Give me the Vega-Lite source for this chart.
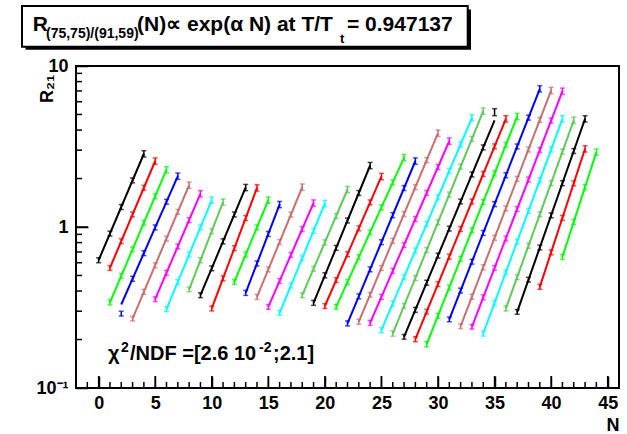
{
"$schema": "https://vega.github.io/schema/vega-lite/v6.json",
"width": 543, "height": 322,
"autosize": "none",
"padding": {"left": 76, "top": 66, "right": 8, "bottom": 46},
"background": "white",
"config": {
 "view": {"stroke": "#000000", "strokeWidth": 2},
 "font": "Liberation Sans",
 "axis": {"domain": false, "grid": false, "ticks": true, "tickColor": "#000000", "tickOpacity": 1, "tickWidth": 1.5, "zindex": 1,
  "labelFont": "Liberation Sans", "labelFontWeight": "bold", "labelFontSize": 18, "labelColor": "#000000",
  "titleFont": "Liberation Sans", "titleFontWeight": "bold", "titleFontSize": 18, "titleColor": "#000000"}
},
"resolve": {"axis": {"x": "independent", "y": "independent"}},
"datasets": {
 "xticks": [
  {"v":-1,"k":"minor"},{"v":0,"k":"major"},{"v":1,"k":"minor"},{"v":2,"k":"minor"},{"v":3,"k":"minor"},{"v":4,"k":"minor"},
  {"v":5,"k":"major"},{"v":6,"k":"minor"},{"v":7,"k":"minor"},{"v":8,"k":"minor"},{"v":9,"k":"minor"},
  {"v":10,"k":"major"},{"v":11,"k":"minor"},{"v":12,"k":"minor"},{"v":13,"k":"minor"},{"v":14,"k":"minor"},
  {"v":15,"k":"major"},{"v":16,"k":"minor"},{"v":17,"k":"minor"},{"v":18,"k":"minor"},{"v":19,"k":"minor"},
  {"v":20,"k":"major"},{"v":21,"k":"minor"},{"v":22,"k":"minor"},{"v":23,"k":"minor"},{"v":24,"k":"minor"},
  {"v":25,"k":"major"},{"v":26,"k":"minor"},{"v":27,"k":"minor"},{"v":28,"k":"minor"},{"v":29,"k":"minor"},
  {"v":30,"k":"major"},{"v":31,"k":"minor"},{"v":32,"k":"minor"},{"v":33,"k":"minor"},{"v":34,"k":"minor"},
  {"v":35,"k":"major"},{"v":36,"k":"minor"},{"v":37,"k":"minor"},{"v":38,"k":"minor"},{"v":39,"k":"minor"},
  {"v":40,"k":"major"},{"v":41,"k":"minor"},{"v":42,"k":"minor"},{"v":43,"k":"minor"},{"v":44,"k":"minor"},
  {"v":45,"k":"major"}
 ],
 "yticks": [
  {"v":0.2,"k":"minor"},{"v":0.3,"k":"minor"},{"v":0.4,"k":"minor"},{"v":0.5,"k":"minor"},{"v":0.6,"k":"minor"},{"v":0.7,"k":"minor"},{"v":0.8,"k":"minor"},{"v":0.9,"k":"minor"},
  {"v":1,"k":"major"},
  {"v":2,"k":"minor"},{"v":3,"k":"minor"},{"v":4,"k":"minor"},{"v":5,"k":"minor"},{"v":6,"k":"minor"},{"v":7,"k":"minor"},{"v":8,"k":"minor"},{"v":9,"k":"minor"}
 ],
 "fit": [
  {"s":1,"N":0,"F":0.622},{"s":1,"N":4,"F":2.851},
  {"s":2,"N":1,"F":0.557},{"s":2,"N":5,"F":2.57},
  {"s":3,"N":1,"F":0.34},{"s":3,"N":6,"F":2.27},
  {"s":4,"N":2,"F":0.33},{"s":4,"N":7,"F":2.07},
  {"s":5,"N":3,"F":0.27},{"s":5,"N":8,"F":1.82},
  {"s":6,"N":5,"F":0.356},{"s":6,"N":9,"F":1.61},
  {"s":7,"N":6,"F":0.309},{"s":7,"N":10,"F":1.47},
  {"s":8,"N":8,"F":0.41},{"s":8,"N":11,"F":1.43},
  {"s":9,"N":9,"F":0.377},{"s":9,"N":13,"F":1.76},
  {"s":10,"N":10,"F":0.312},{"s":10,"N":14,"F":1.75},
  {"s":11,"N":12,"F":0.456},{"s":11,"N":15,"F":1.47},
  {"s":12,"N":13,"F":0.39},{"s":12,"N":16,"F":1.38},
  {"s":13,"N":14,"F":0.368},{"s":13,"N":18,"F":1.77},
  {"s":14,"N":15,"F":0.319},{"s":14,"N":19,"F":1.41},
  {"s":15,"N":16,"F":0.293},{"s":15,"N":20,"F":1.4},
  {"s":16,"N":18,"F":0.377},{"s":16,"N":22,"F":1.71},
  {"s":17,"N":19,"F":0.338},{"s":17,"N":24,"F":2.41},
  {"s":18,"N":20,"F":0.323},{"s":18,"N":25,"F":2.06},
  {"s":19,"N":21,"F":0.319},{"s":19,"N":27,"F":2.7},
  {"s":20,"N":22,"F":0.252},{"s":20,"N":28,"F":2.57},
  {"s":21,"N":23,"F":0.258},{"s":21,"N":30,"F":3.83},
  {"s":22,"N":24,"F":0.254},{"s":22,"N":31,"F":3.42},
  {"s":23,"N":25,"F":0.229},{"s":23,"N":33,"F":4.77},
  {"s":24,"N":26,"F":0.218},{"s":24,"N":34,"F":5.25},
  {"s":25,"N":27,"F":0.208},{"s":25,"N":35,"F":4.6},
  {"s":26,"N":28,"F":0.201},{"s":26,"N":36,"F":4.7},
  {"s":27,"N":29,"F":0.187},{"s":27,"N":37,"F":4.86},
  {"s":28,"N":31,"F":0.267},{"s":28,"N":39,"F":7.22},
  {"s":29,"N":32,"F":0.242},{"s":29,"N":40,"F":7.05},
  {"s":30,"N":33,"F":0.24},{"s":30,"N":41,"F":6.98},
  {"s":31,"N":34,"F":0.218},{"s":31,"N":41,"F":4.7},
  {"s":32,"N":36,"F":0.312},{"s":32,"N":42,"F":4.6},
  {"s":33,"N":37,"F":0.297},{"s":33,"N":43,"F":4.7},
  {"s":34,"N":39,"F":0.425},{"s":34,"N":43,"F":3.06},
  {"s":35,"N":41,"F":0.652},{"s":35,"N":44,"F":2.92}
 ],
 "pts": [
  {"s":1,"N":0,"R":0.622,"e":0.022},{"s":1,"N":1,"R":0.91,"e":0.032},{"s":1,"N":2,"R":1.332,"e":0.047},{"s":1,"N":3,"R":1.949,"e":0.068},{"s":1,"N":4,"R":2.851,"e":0.128},
  {"s":2,"N":1,"R":0.557,"e":0.019},{"s":2,"N":2,"R":0.817,"e":0.029},{"s":2,"N":3,"R":1.197,"e":0.042},{"s":2,"N":4,"R":1.754,"e":0.061},{"s":2,"N":5,"R":2.57,"e":0.116},
  {"s":3,"N":1,"R":0.34,"e":0.012},{"s":3,"N":2,"R":0.497,"e":0.017},{"s":3,"N":3,"R":0.726,"e":0.025},{"s":3,"N":4,"R":1.062,"e":0.037},{"s":3,"N":5,"R":1.552,"e":0.054},{"s":3,"N":6,"R":2.27,"e":0.102},
  {"s":4,"N":2,"R":0.29,"e":0.01},{"s":4,"N":3,"R":0.477,"e":0.017},{"s":4,"N":4,"R":0.688,"e":0.024},{"s":4,"N":5,"R":0.994,"e":0.035},{"s":4,"N":6,"R":1.434,"e":0.05},{"s":4,"N":7,"R":2.07,"e":0.093},
  {"s":5,"N":3,"R":0.27,"e":0.009},{"s":5,"N":4,"R":0.396,"e":0.014},{"s":5,"N":5,"R":0.579,"e":0.02},{"s":5,"N":6,"R":0.848,"e":0.03},{"s":5,"N":7,"R":1.242,"e":0.043},{"s":5,"N":8,"R":1.82,"e":0.082},
  {"s":6,"N":5,"R":0.356,"e":0.012},{"s":6,"N":6,"R":0.519,"e":0.018},{"s":6,"N":7,"R":0.757,"e":0.026},{"s":6,"N":8,"R":1.104,"e":0.039},{"s":6,"N":9,"R":1.61,"e":0.072},
  {"s":7,"N":6,"R":0.309,"e":0.011},{"s":7,"N":7,"R":0.456,"e":0.016},{"s":7,"N":8,"R":0.674,"e":0.024},{"s":7,"N":9,"R":0.995,"e":0.035},{"s":7,"N":10,"R":1.47,"e":0.066},
  {"s":8,"N":8,"R":0.41,"e":0.014},{"s":8,"N":9,"R":0.622,"e":0.022},{"s":8,"N":10,"R":0.943,"e":0.033},{"s":8,"N":11,"R":1.43,"e":0.064},
  {"s":9,"N":9,"R":0.377,"e":0.013},{"s":9,"N":10,"R":0.554,"e":0.019},{"s":9,"N":11,"R":0.815,"e":0.029},{"s":9,"N":12,"R":1.197,"e":0.042},{"s":9,"N":13,"R":1.76,"e":0.079},
  {"s":10,"N":10,"R":0.312,"e":0.011},{"s":10,"N":11,"R":0.48,"e":0.017},{"s":10,"N":12,"R":0.739,"e":0.026},{"s":10,"N":13,"R":1.137,"e":0.04},{"s":10,"N":14,"R":1.75,"e":0.079},
  {"s":11,"N":12,"R":0.456,"e":0.016},{"s":11,"N":13,"R":0.674,"e":0.024},{"s":11,"N":14,"R":0.995,"e":0.035},{"s":11,"N":15,"R":1.47,"e":0.066},
  {"s":12,"N":13,"R":0.39,"e":0.014},{"s":12,"N":14,"R":0.594,"e":0.021},{"s":12,"N":15,"R":0.906,"e":0.032},{"s":12,"N":16,"R":1.38,"e":0.062},
  {"s":13,"N":14,"R":0.368,"e":0.013},{"s":13,"N":15,"R":0.545,"e":0.019},{"s":13,"N":16,"R":0.807,"e":0.028},{"s":13,"N":17,"R":1.195,"e":0.042},{"s":13,"N":18,"R":1.77,"e":0.08},
  {"s":14,"N":15,"R":0.319,"e":0.011},{"s":14,"N":16,"R":0.462,"e":0.016},{"s":14,"N":17,"R":0.671,"e":0.023},{"s":14,"N":18,"R":0.972,"e":0.034},{"s":14,"N":19,"R":1.41,"e":0.063},
  {"s":15,"N":16,"R":0.293,"e":0.01},{"s":15,"N":17,"R":0.433,"e":0.015},{"s":15,"N":18,"R":0.64,"e":0.022},{"s":15,"N":19,"R":0.947,"e":0.033},{"s":15,"N":20,"R":1.4,"e":0.063},
  {"s":16,"N":18,"R":0.377,"e":0.013},{"s":16,"N":19,"R":0.55,"e":0.019},{"s":16,"N":20,"R":0.803,"e":0.028},{"s":16,"N":21,"R":1.172,"e":0.041},{"s":16,"N":22,"R":1.71,"e":0.077},
  {"s":17,"N":19,"R":0.338,"e":0.012},{"s":17,"N":20,"R":0.501,"e":0.018},{"s":17,"N":21,"R":0.742,"e":0.026},{"s":17,"N":22,"R":1.098,"e":0.038},{"s":17,"N":23,"R":1.627,"e":0.057},{"s":17,"N":24,"R":2.41,"e":0.108},
  {"s":18,"N":20,"R":0.323,"e":0.011},{"s":18,"N":21,"R":0.468,"e":0.016},{"s":18,"N":22,"R":0.678,"e":0.024},{"s":18,"N":23,"R":0.982,"e":0.034},{"s":18,"N":24,"R":1.422,"e":0.05},{"s":18,"N":25,"R":2.06,"e":0.093},
  {"s":19,"N":21,"R":0.319,"e":0.011},{"s":19,"N":22,"R":0.455,"e":0.016},{"s":19,"N":23,"R":0.65,"e":0.023},{"s":19,"N":24,"R":0.928,"e":0.032},{"s":19,"N":25,"R":1.325,"e":0.046},{"s":19,"N":26,"R":1.891,"e":0.066},{"s":19,"N":27,"R":2.7,"e":0.122},
  {"s":20,"N":22,"R":0.252,"e":0.009},{"s":20,"N":23,"R":0.371,"e":0.013},{"s":20,"N":24,"R":0.546,"e":0.019},{"s":20,"N":25,"R":0.805,"e":0.028},{"s":20,"N":26,"R":1.185,"e":0.041},{"s":20,"N":27,"R":1.746,"e":0.061},{"s":20,"N":28,"R":2.57,"e":0.116},
  {"s":21,"N":23,"R":0.258,"e":0.009},{"s":21,"N":24,"R":0.379,"e":0.013},{"s":21,"N":25,"R":0.557,"e":0.019},{"s":21,"N":26,"R":0.82,"e":0.029},{"s":21,"N":27,"R":1.205,"e":0.042},{"s":21,"N":28,"R":1.772,"e":0.062},{"s":21,"N":29,"R":2.604,"e":0.091},{"s":21,"N":30,"R":3.83,"e":0.172},
  {"s":22,"N":24,"R":0.254,"e":0.009},{"s":22,"N":25,"R":0.368,"e":0.013},{"s":22,"N":26,"R":0.534,"e":0.019},{"s":22,"N":27,"R":0.774,"e":0.027},{"s":22,"N":28,"R":1.122,"e":0.039},{"s":22,"N":29,"R":1.627,"e":0.057},{"s":22,"N":30,"R":2.359,"e":0.083},{"s":22,"N":31,"R":3.42,"e":0.154},
  {"s":23,"N":25,"R":0.229,"e":0.008},{"s":23,"N":26,"R":0.335,"e":0.012},{"s":23,"N":27,"R":0.489,"e":0.017},{"s":23,"N":28,"R":0.715,"e":0.025},{"s":23,"N":29,"R":1.045,"e":0.037},{"s":23,"N":30,"R":1.528,"e":0.053},{"s":23,"N":31,"R":2.233,"e":0.078},{"s":23,"N":32,"R":3.264,"e":0.114},{"s":23,"N":33,"R":4.77,"e":0.215},
  {"s":24,"N":26,"R":0.218,"e":0.008},{"s":24,"N":27,"R":0.324,"e":0.011},{"s":24,"N":28,"R":0.483,"e":0.017},{"s":24,"N":29,"R":0.719,"e":0.025},{"s":24,"N":30,"R":1.07,"e":0.037},{"s":24,"N":31,"R":1.592,"e":0.056},{"s":24,"N":32,"R":2.371,"e":0.083},{"s":24,"N":33,"R":3.528,"e":0.123},{"s":24,"N":34,"R":5.25,"e":0.236},
  {"s":25,"N":27,"R":0.208,"e":0.007},{"s":25,"N":28,"R":0.306,"e":0.011},{"s":25,"N":29,"R":0.451,"e":0.016},{"s":25,"N":30,"R":0.664,"e":0.023},{"s":25,"N":31,"R":0.978,"e":0.034},{"s":25,"N":32,"R":1.441,"e":0.05},{"s":25,"N":33,"R":2.121,"e":0.074},{"s":25,"N":34,"R":3.124,"e":0.109},{"s":25,"N":35,"R":5.17,"e":0.26},
  {"s":26,"N":28,"R":0.201,"e":0.007},{"s":26,"N":29,"R":0.298,"e":0.01},{"s":26,"N":30,"R":0.442,"e":0.015},{"s":26,"N":31,"R":0.655,"e":0.023},{"s":26,"N":32,"R":0.972,"e":0.034},{"s":26,"N":33,"R":1.441,"e":0.05},{"s":26,"N":34,"R":2.137,"e":0.075},{"s":26,"N":35,"R":3.17,"e":0.111},{"s":26,"N":36,"R":4.7,"e":0.212},
  {"s":27,"N":29,"R":0.187,"e":0.007},{"s":27,"N":30,"R":0.281,"e":0.01},{"s":27,"N":31,"R":0.422,"e":0.015},{"s":27,"N":32,"R":0.634,"e":0.022},{"s":27,"N":33,"R":0.953,"e":0.033},{"s":27,"N":34,"R":1.432,"e":0.05},{"s":27,"N":35,"R":2.152,"e":0.075},{"s":27,"N":36,"R":3.234,"e":0.113},{"s":27,"N":37,"R":4.86,"e":0.219},
  {"s":28,"N":31,"R":0.267,"e":0.009},{"s":28,"N":32,"R":0.403,"e":0.014},{"s":28,"N":33,"R":0.609,"e":0.021},{"s":28,"N":34,"R":0.919,"e":0.032},{"s":28,"N":35,"R":1.388,"e":0.049},{"s":28,"N":36,"R":2.097,"e":0.073},{"s":28,"N":37,"R":3.167,"e":0.111},{"s":28,"N":38,"R":4.781,"e":0.167},{"s":28,"N":39,"R":7.22,"e":0.325},
  {"s":29,"N":32,"R":0.242,"e":0.008},{"s":29,"N":33,"R":0.369,"e":0.013},{"s":29,"N":34,"R":0.562,"e":0.02},{"s":29,"N":35,"R":0.857,"e":0.03},{"s":29,"N":36,"R":1.306,"e":0.046},{"s":29,"N":37,"R":1.991,"e":0.07},{"s":29,"N":38,"R":3.034,"e":0.106},{"s":29,"N":39,"R":4.626,"e":0.162},{"s":29,"N":40,"R":7.05,"e":0.317},
  {"s":30,"N":33,"R":0.24,"e":0.008},{"s":30,"N":34,"R":0.366,"e":0.013},{"s":30,"N":35,"R":0.557,"e":0.019},{"s":30,"N":36,"R":0.849,"e":0.03},{"s":30,"N":37,"R":1.294,"e":0.045},{"s":30,"N":38,"R":1.972,"e":0.069},{"s":30,"N":39,"R":3.006,"e":0.105},{"s":30,"N":40,"R":4.581,"e":0.16},{"s":30,"N":41,"R":6.98,"e":0.314},
  {"s":31,"N":34,"R":0.218,"e":0.008},{"s":31,"N":35,"R":0.338,"e":0.012},{"s":31,"N":36,"R":0.524,"e":0.018},{"s":31,"N":37,"R":0.813,"e":0.028},{"s":31,"N":38,"R":1.26,"e":0.044},{"s":31,"N":39,"R":1.954,"e":0.068},{"s":31,"N":40,"R":3.031,"e":0.106},{"s":31,"N":41,"R":4.7,"e":0.212},
  {"s":32,"N":36,"R":0.312,"e":0.011},{"s":32,"N":37,"R":0.489,"e":0.017},{"s":32,"N":38,"R":0.765,"e":0.027},{"s":32,"N":39,"R":1.198,"e":0.042},{"s":32,"N":40,"R":1.876,"e":0.066},{"s":32,"N":41,"R":2.938,"e":0.103},{"s":32,"N":42,"R":4.6,"e":0.207},
  {"s":33,"N":37,"R":0.297,"e":0.01},{"s":33,"N":38,"R":0.471,"e":0.016},{"s":33,"N":39,"R":0.746,"e":0.026},{"s":33,"N":40,"R":1.182,"e":0.041},{"s":33,"N":41,"R":1.872,"e":0.066},{"s":33,"N":42,"R":2.966,"e":0.104},{"s":33,"N":43,"R":4.7,"e":0.212},
  {"s":34,"N":39,"R":0.425,"e":0.015},{"s":34,"N":40,"R":0.696,"e":0.024},{"s":34,"N":41,"R":1.14,"e":0.04},{"s":34,"N":42,"R":1.868,"e":0.065},{"s":34,"N":43,"R":3.06,"e":0.138},
  {"s":35,"N":41,"R":0.652,"e":0.023},{"s":35,"N":42,"R":1.075,"e":0.038},{"s":35,"N":43,"R":1.772,"e":0.062},{"s":35,"N":44,"R":2.92,"e":0.131}
 ]
},
"layer": [
 {"data": {"name": "fit"}, "mark": {"type": "line", "strokeWidth": 2},
  "encoding": {
   "x": {"field": "N", "type": "quantitative", "title": "N", "scale": {"domain": [-2, 46], "nice": false, "zero": false},
    "axis": {"orient": "bottom", "offset": -12, "ticks": true, "tickSize": 12, "tickColor": "#000000", "tickWidth": 1.5, "zindex": 1,
     "titleAnchor": "end", "titlePadding": 4,
     "values": [0,5,10,15,20,25,30,35,40,45],
     "labelOverlap": false, "labelFlush": false, "labelPadding": 6}},
   "y": {"field": "F", "type": "quantitative", "title": "R₂₁", "scale": {"type": "log", "domain": [0.1, 10], "nice": false},
    "axis": {"orient": "left", "offset": -12, "ticks": true, "tickSize": 12, "tickColor": "#000000", "tickWidth": 1.5, "zindex": 1,
     "titleAnchor": "end", "titleX": -32, "titleY": 8,
     "values": [0.1,1,10],
     "labelExpr": "datum.value == 0.1 ? '10⁻¹' : datum.value == 1 ? '1' : '10'",
     "labelOverlap": false, "labelFlush": false, "labelPadding": 8}},
   "color": {"field": "s", "type": "ordinal", "legend": null,
    "scale": {"range": ["#000000", "#ff0000", "#00ff00", "#0000ff", "#c87070", "#ff00ff", "#00ffff", "#5fc95a"]}}
  }},
 {"data": {"name": "pts"}, "mark": {"type": "errorbar", "ticks": {"size": 5}, "thickness": 1.5},
  "encoding": {
   "x": {"field": "N", "type": "quantitative", "axis": null},
   "y": {"field": "R", "type": "quantitative", "axis": null},
   "yError": {"field": "e"},
   "color": {"field": "s", "type": "ordinal", "legend": null}
  }},
 {"data": {"name": "xticks"}, "transform": [{"filter": {"field": "k", "equal": "major"}}],
  "mark": {"type": "rule", "color": "#000000", "strokeWidth": 1.5},
  "encoding": {"x": {"field": "v", "type": "quantitative", "axis": null},
   "y": {"datum": 0.1, "type": "quantitative", "axis": null}, "y2": {"datum": 0.1187}}},
 {"data": {"name": "xticks"}, "transform": [{"filter": {"field": "k", "equal": "minor"}}],
  "mark": {"type": "rule", "color": "#000000", "strokeWidth": 1.5},
  "encoding": {"x": {"field": "v", "type": "quantitative", "axis": null},
   "y": {"datum": 0.1, "type": "quantitative", "axis": null}, "y2": {"datum": 0.109}}},
 {"data": {"name": "yticks"}, "transform": [{"filter": {"field": "k", "equal": "major"}}],
  "mark": {"type": "rule", "color": "#000000", "strokeWidth": 1.5},
  "encoding": {"y": {"field": "v", "type": "quantitative", "axis": null},
   "x": {"datum": -2, "type": "quantitative", "axis": null}, "x2": {"datum": -0.939}}},
 {"data": {"name": "yticks"}, "transform": [{"filter": {"field": "k", "equal": "minor"}}],
  "mark": {"type": "rule", "color": "#000000", "strokeWidth": 1.5},
  "encoding": {"y": {"field": "v", "type": "quantitative", "axis": null},
   "x": {"datum": -2, "type": "quantitative", "axis": null}, "x2": {"datum": -1.47}}},
 {"data": {"values": [{}]}, "mark": {"type": "rect", "fill": "#000000"},
  "encoding": {"x": {"datum": -6.464, "type": "quantitative", "axis": null}, "x2": {"datum": 32.917},
   "y": {"datum": 22.44, "type": "quantitative", "axis": null}, "y2": {"datum": 12.63}}},
 {"data": {"values": [{}]}, "mark": {"type": "rect", "fill": "#ffffff", "stroke": "#000000", "strokeWidth": 2},
  "encoding": {"x": {"datum": -6.774, "type": "quantitative", "axis": null}, "x2": {"datum": 32.626},
   "y": {"datum": 23.59, "type": "quantitative", "axis": null}, "y2": {"datum": 13.18}}},
 {"data": {"values": [{}]}, "mark": {"type": "text", "align": "left", "baseline": "alphabetic", "fontSize": 21, "fontWeight": "bold", "color": "#000000"},
  "encoding": {"x": {"datum": -5.828, "type": "quantitative", "axis": null}, "y": {"datum": 16.38, "type": "quantitative", "axis": null}, "text": {"value": "R"}}},
 {"data": {"values": [{}]}, "mark": {"type": "text", "align": "left", "baseline": "alphabetic", "fontSize": 14, "fontWeight": "bold", "color": "#000000"},
  "encoding": {"x": {"datum": -4.652, "type": "quantitative", "axis": null}, "y": {"datum": 14.82, "type": "quantitative", "axis": null}, "text": {"value": "(75,75)/(91,59)"}}},
 {"data": {"values": [{}]}, "mark": {"type": "text", "align": "left", "baseline": "alphabetic", "fontSize": 21, "fontWeight": "bold", "color": "#000000"},
  "encoding": {"x": {"datum": 3.392, "type": "quantitative", "axis": null}, "y": {"datum": 16.38, "type": "quantitative", "axis": null}, "text": {"value": "(N)∝ exp(α N) at T/T"}}},
 {"data": {"values": [{}]}, "mark": {"type": "text", "align": "left", "baseline": "alphabetic", "fontSize": 13, "fontWeight": "bold", "color": "#000000"},
  "encoding": {"x": {"datum": 21.337, "type": "quantitative", "axis": null}, "y": {"datum": 13.9, "type": "quantitative", "axis": null}, "text": {"value": "t"}}},
 {"data": {"values": [{}]}, "mark": {"type": "text", "align": "left", "baseline": "alphabetic", "fontSize": 21, "fontWeight": "bold", "color": "#000000"},
  "encoding": {"x": {"datum": 21.956, "type": "quantitative", "axis": null}, "y": {"datum": 16.38, "type": "quantitative", "axis": null}, "text": {"value": "= 0.947137"}}},
 {"data": {"values": [{}]}, "mark": {"type": "text", "align": "left", "baseline": "alphabetic", "fontSize": 20, "fontWeight": "bold", "color": "#000000"},
  "encoding": {"x": {"datum": 0.829, "type": "quantitative", "axis": null}, "y": {"datum": 0.149, "type": "quantitative", "axis": null}, "text": {"value": "χ"}}},
 {"data": {"values": [{}]}, "mark": {"type": "text", "align": "left", "baseline": "alphabetic", "fontSize": 14, "fontWeight": "bold", "color": "#000000"},
  "encoding": {"x": {"datum": 1.978, "type": "quantitative", "axis": null}, "y": {"datum": 0.1674, "type": "quantitative", "axis": null}, "text": {"value": "2"}}},
 {"data": {"values": [{}]}, "mark": {"type": "text", "align": "left", "baseline": "alphabetic", "fontSize": 20, "fontWeight": "bold", "color": "#000000"},
  "encoding": {"x": {"datum": 2.774, "type": "quantitative", "axis": null}, "y": {"datum": 0.149, "type": "quantitative", "axis": null}, "text": {"value": "/NDF =[2.6 10"}}},
 {"data": {"values": [{}]}, "mark": {"type": "text", "align": "left", "baseline": "alphabetic", "fontSize": 14, "fontWeight": "bold", "color": "#000000"},
  "encoding": {"x": {"datum": 14.177, "type": "quantitative", "axis": null}, "y": {"datum": 0.1674, "type": "quantitative", "axis": null}, "text": {"value": "-2"}}},
 {"data": {"values": [{}]}, "mark": {"type": "text", "align": "left", "baseline": "alphabetic", "fontSize": 20, "fontWeight": "bold", "color": "#000000"},
  "encoding": {"x": {"datum": 15.415, "type": "quantitative", "axis": null}, "y": {"datum": 0.149, "type": "quantitative", "axis": null}, "text": {"value": ";2.1]"}}}
]
}
